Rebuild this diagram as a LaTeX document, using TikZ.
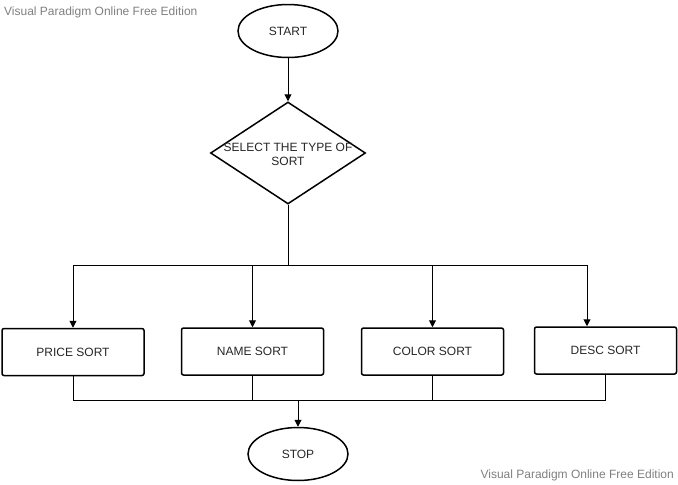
\documentclass[tikz,border=0pt]{standalone}
\usepackage{fontspec}
\setmainfont{Liberation Sans}
\usetikzlibrary{shapes.geometric,arrows.meta,calc}
\definecolor{wmgray}{RGB}{128,128,128}
\tikzset{
  lbl/.style={font=\fontsize{12}{14}\selectfont, text=black!85},
  terminal/.style={ellipse, draw, line width=1.5pt, minimum width=100pt, minimum height=53pt, lbl},
  decision/.style={diamond, draw, line width=1.5pt, minimum width=155pt, minimum height=102pt, inner sep=0pt, lbl, align=center, aspect=1.52},
  sortbox/.style={rectangle, rounded corners=2pt, draw, line width=1.5pt, minimum width=142pt, minimum height=47pt, lbl},
  wire/.style={line width=1pt},
  arr/.style={wire, -{Triangle[length=7pt,width=7pt]}},
  watermark/.style={font=\fontsize{12}{14}\selectfont, text=wmgray, inner sep=0pt}
}
\begin{document}
\begin{tikzpicture}[x=1pt,y=-1pt]
\useasboundingbox (0,0) rectangle (678,485);

% start / decision
\node[terminal] (start) at (288,31) {START};
\node[decision] (select) at (288,153) {};
\node[lbl, align=center, inner sep=0pt] (selecttxt) at (288,154) {SELECT THE TYPE OF\\SORT};

% the four sort options
\node[sortbox] (price) at (73,352) {PRICE SORT};
\node[sortbox] (name) at (252.5,351.5) {NAME SORT};
\node[sortbox] (color) at (432.5,351.5) {COLOR SORT};
\node[sortbox] (desc) at (605.5,350.5) {DESC SORT};

% end
\node[terminal] (stop) at (298,454) {STOP};

% branch and merge points
\coordinate (split) at (288,265);
\coordinate (descin) at (587,265);
\coordinate (merge) at (298,400);

\draw[arr] (start) -- (select);
\draw[wire] (select.south) -- (split);
\draw[arr] (split) -| (price.north);
\draw[arr] (split) -| (name.north);
\draw[arr] (split) -| (color.north);
\draw[arr] (split) -- (descin) -- (descin |- desc.north);

\draw[wire] (price.south) |- (merge);
\draw[wire] (name.south) |- (merge);
\draw[wire] (color.south) |- (merge);
\draw[wire] (desc.south) |- (merge);
\draw[arr] (merge) -- (stop.north);

% edition marks
\node[watermark, anchor=west] (wm1) at (4,12) {Visual Paradigm Online Free Edition};
\node[watermark, anchor=east] (wm2) at (674,475) {Visual Paradigm Online Free Edition};
\end{tikzpicture}
\end{document}
